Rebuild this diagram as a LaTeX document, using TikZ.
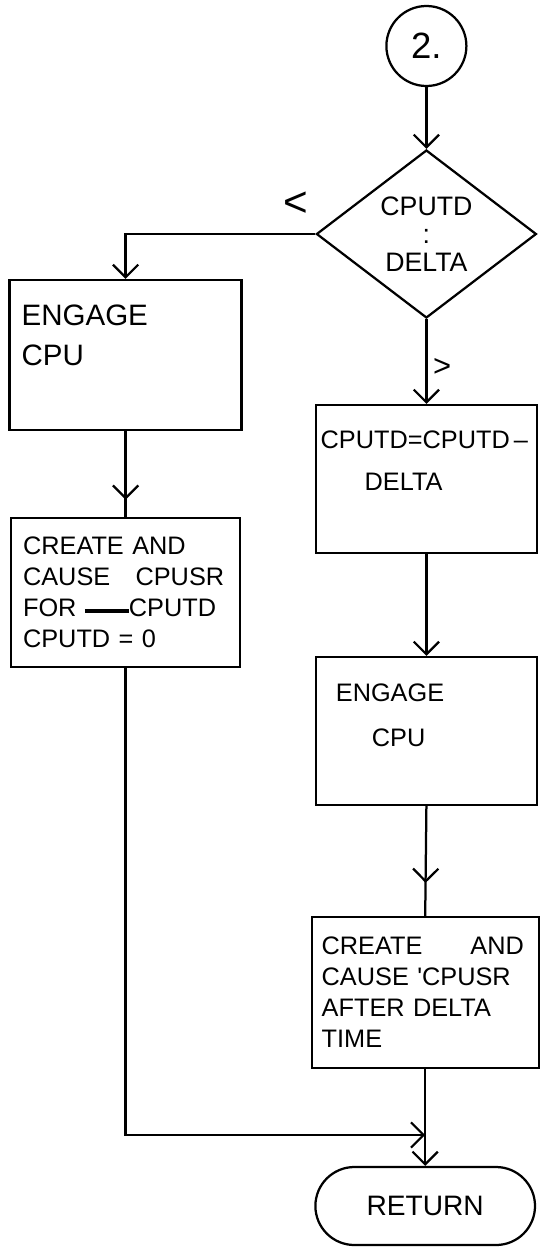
\documentclass[tikz,border=0pt]{standalone}
\usepackage{fontspec}
\setmainfont{Liberation Sans}
\usetikzlibrary{arrows.meta,shapes.geometric,shapes.misc,decorations.markings}

\begin{document}
\begin{tikzpicture}[
    line width=1.6pt,
    stepbox/.style={draw, rectangle, inner ysep=0pt, align=left, font=\fontsize{18}{26}\selectfont},
    term/.style={draw, rounded rectangle, minimum width=5.725cm, minimum height=1.95cm, font=\fontsize{20}{24}\selectfont},
    conn/.style={draw, circle, minimum size=2cm, inner sep=0pt, font=\fontsize{26}{28}\selectfont},
    test/.style={draw, diamond, minimum width=5.5cm, minimum height=4.2cm, inner sep=0pt, align=center, font=\fontsize{19}{20}\selectfont},
    lbl/.style={inner sep=0pt, font=\fontsize{30}{30}\selectfont},
    arr/.style={-{Straight Barb[length=9pt,width=18pt]}},
    midarr/.style={postaction={decorate}, decoration={markings, mark=at position #1 with {\arrow{Straight Barb[length=9pt,width=18pt]}}}}
]
\useasboundingbox (0,0) rectangle (13.5,-31.175);

% right column
\node[conn] (c2) at (10.66,-1.15) {2.};
\node[test] (dec) at (10.66,-5.85) {CPUTD\\:\\DELTA};
\node[stepbox, minimum width=5.525cm, minimum height=3.7cm, inner xsep=0.12cm, text width=5.285cm, font=\fontsize{18}{30}\selectfont] (b1) at (10.66,-11.975) {CPUTD=CPUTD\,--\\\hspace*{1.1cm}DELTA\\[-4pt]~};
\node[stepbox, minimum width=5.525cm, minimum height=3.7cm, inner xsep=0.5cm, text width=4.525cm, font=\fontsize{18}{32}\selectfont] (b2) at (10.66,-18.275) {ENGAGE\\\hspace*{0.9cm}CPU\\[-10pt]~};
\node[stepbox, minimum width=5.675cm, minimum height=3.775cm, inner xsep=0.25cm, text width=5.175cm, font=\fontsize{18}{22}\selectfont] (b3) at (10.63,-24.81) {CREATE\hspace{1.2cm}AND\\CAUSE \textquotesingle CPUSR\\AFTER DELTA\\TIME};
\node[term] (ret) at (10.63,-30.15) {RETURN};

% left column
\node[stepbox, minimum width=5.8cm, minimum height=3.75cm, inner xsep=0.3cm, text width=5.2cm, font=\fontsize{21}{28}\selectfont] (e1) at (3.14,-8.875) {ENGAGE\\CPU\\~};
\node[stepbox, minimum width=5.725cm, minimum height=3.725cm, inner xsep=0.3cm, text width=5.125cm, font=\fontsize{18}{22}\selectfont] (e2) at (3.14,-14.81) {CREATE AND\\CAUSE\quad CPUSR\\FOR \rule[0.3ex]{1.1cm}{2.4pt}CPUTD\\CPUTD = 0};

\coordinate (mrg) at (10.63,-28.375);

\draw[arr] (c2) -- (dec);
\draw[arr] (dec.west) -| node[lbl, pos=0.05, above=12pt] {<} (e1.north);
\draw[arr] (dec.south) -- node[lbl, pos=0.57, right=4pt, font=\fontsize{22}{22}\selectfont] {>} (b1.north);
\draw[midarr=0.8] (e1.south) -- (e2.north);
\draw[arr] (b1.south) -- (b2.north);
\draw[midarr=0.7] (b2.south) -- (b3.north);
\draw[arr] (e2.south) |- (mrg);
\draw[arr] (b3.south) -- (ret.north);
\end{tikzpicture}
\end{document}
